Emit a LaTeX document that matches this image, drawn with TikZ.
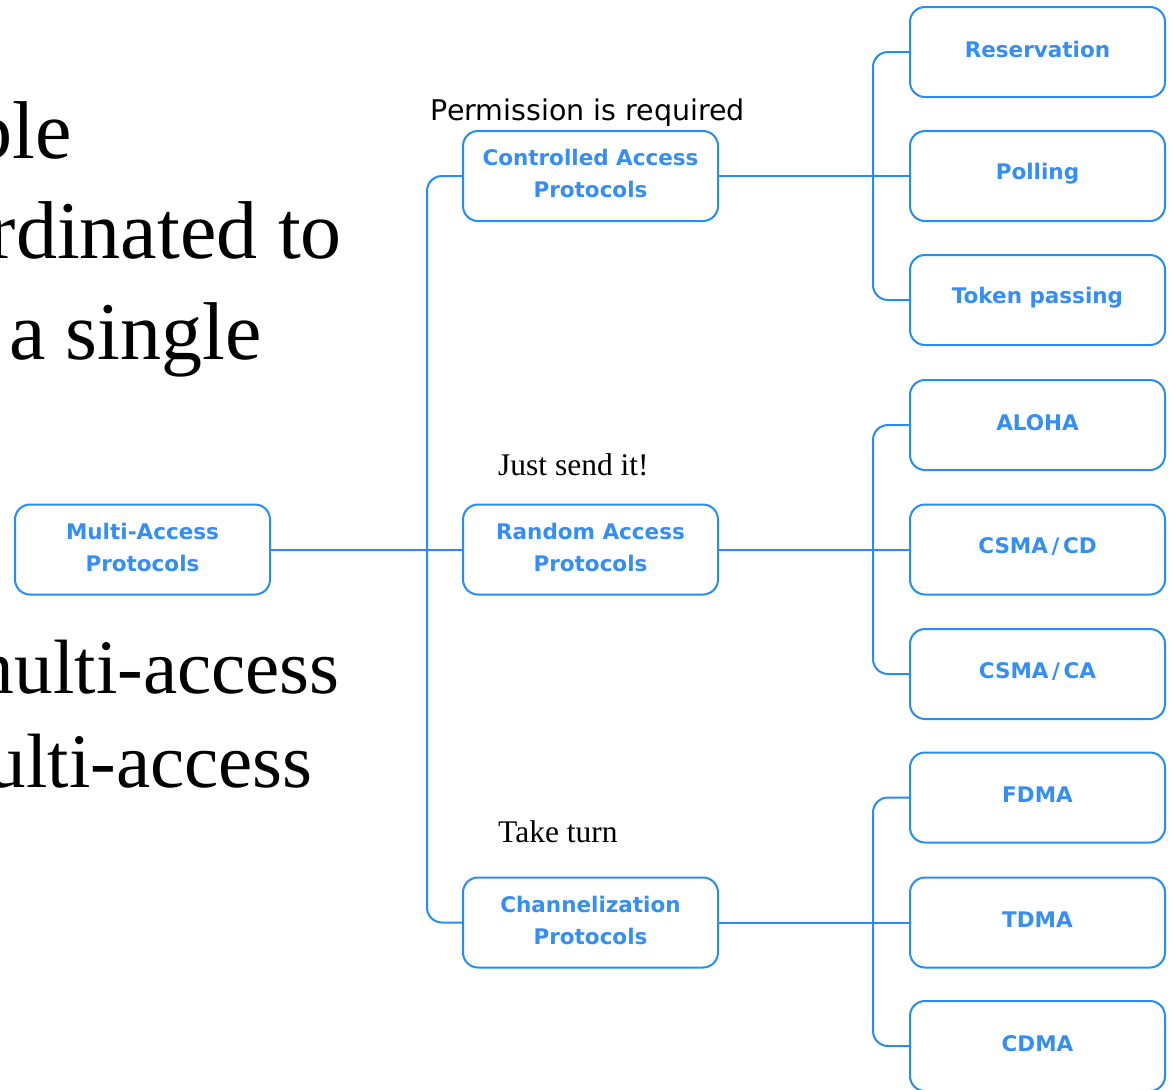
\documentclass[tikz,border=0pt]{standalone}
\usepackage{fontspec}
\setmainfont{Liberation Serif}
\newfontfamily\labelfont{DejaVu Sans}
\newfontfamily\boxfont{DejaVu Sans}
\definecolor{treeblue}{RGB}{38,140,246}
\definecolor{boxtext}{RGB}{52,142,245}
\tikzset{
  protobox/.style={draw=treeblue, line width=2pt, rounded corners=15pt,
    minimum width=255pt, minimum height=90pt, inner sep=0pt},
  boxlabel/.style={align=center, text=boxtext, inner sep=0pt, yshift=2.5pt,
    font=\boxfont\bfseries\fontsize{21.5}{32}\selectfont},
  link/.style={draw=treeblue, line width=2pt, rounded corners=15pt},
  bigtext/.style={anchor=base east, inner sep=0pt,
    font=\fontsize{82}{100}\selectfont},
  subtext/.style={anchor=base east, inner sep=0pt,
    font=\fontsize{77}{94}\selectfont},
  serifnote/.style={anchor=base west, inner sep=0pt,
    font=\fontsize{31.5}{36}\selectfont},
  sansnote/.style={anchor=base, inner sep=0pt,
    font=\labelfont\fontsize{28.5}{34}\selectfont}
}
\begin{document}
\begin{tikzpicture}[x=1pt, y=-1pt]
\clip (0,0) rectangle (1171,1090);
\fill[white] (0,0) rectangle (1171,1090);

% slide text running in from the left
\node[bigtext] (t1) at (72,158) {ble};
\node[bigtext] (t2) at (342,258) {rdinated to};
\node[bigtext] (t3) at (262,359) {a single};
\node[subtext] (t4) at (340,693) {multi-access};
\node[subtext] (t5) at (313,787) {ulti-access};

% root and protocol families
\node[protobox, label={[boxlabel]center:Multi-Access\\Protocols}] (multi) at (142.5,549.5) {};
\node[protobox, label={[boxlabel]center:Controlled Access\\Protocols}] (ctrl) at (590.5,176) {};
\node[protobox, label={[boxlabel]center:Random Access\\Protocols}] (rand) at (590.5,549.5) {};
\node[protobox, label={[boxlabel]center:Channelization\\Protocols}] (chan) at (590.5,922.5) {};

% leaf protocols
\node[protobox, label={[boxlabel]center:Reservation}]   (res)   at (1037.5,52)   {};
\node[protobox, label={[boxlabel]center:Polling}]       (poll)  at (1037.5,176)  {};
\node[protobox, label={[boxlabel]center:Token passing}] (tok)   at (1037.5,300)  {};
\node[protobox, label={[boxlabel]center:ALOHA}]         (aloha) at (1037.5,425)  {};
\node[protobox, label={[boxlabel]center:CSMA\,/\,CD}]   (cd)    at (1037.5,549.5) {};
\node[protobox, label={[boxlabel]center:CSMA\,/\,CA}]   (ca)    at (1037.5,674)  {};
\node[protobox, label={[boxlabel]center:FDMA}]          (fdma)  at (1037.5,797.5) {};
\node[protobox, label={[boxlabel]center:TDMA}]          (tdma)  at (1037.5,922.5) {};
\node[protobox, label={[boxlabel]center:CDMA}]          (cdma)  at (1037.5,1046) {};

% annotations
\node[sansnote] (n1) at (588,120) {Permission is required};
\node[serifnote] (n2) at (498,475) {Just send it!};
\node[serifnote] (n3) at (498,842) {Take turn};

% trunk positions
\coordinate (tl) at (427,549.5);
\coordinate (tr1) at (873,176);
\coordinate (tr2) at (873,549.5);
\coordinate (tr3) at (873,922.5);

% connectors
\draw[link] (multi.east) -- (rand.west);
\draw[link] (ctrl.west) -| (tl) |- (chan.west);

\draw[link] (ctrl.east) -- (poll.west);
\draw[link] (res.west) -| (tr1) |- (tok.west);

\draw[link] (rand.east) -- (cd.west);
\draw[link] (aloha.west) -| (tr2) |- (ca.west);

\draw[link] (chan.east) -- (tdma.west);
\draw[link] (fdma.west) -| (tr3) |- (cdma.west);
\end{tikzpicture}
\end{document}
